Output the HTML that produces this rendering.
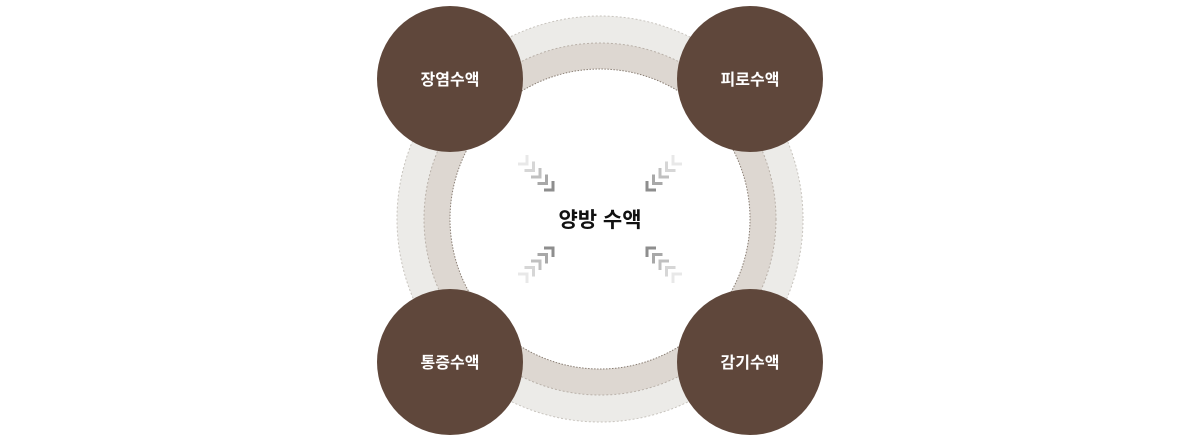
<!DOCTYPE html>
<html><head><meta charset="utf-8"><style>
html,body{margin:0;padding:0;background:#fff;}
svg{display:block}
</style></head><body>
<svg width="1200" height="440" viewBox="0 0 1200 440" xmlns="http://www.w3.org/2000/svg">
<defs>
  <!-- chevron pointing up-left: corner at 0,0 -->
  <path id="ch" d="M0,9 V0 H9" fill="none" stroke-width="3"/>
</defs>
<circle cx="600" cy="219" r="203" fill="#ecebe8" stroke="#c8c4be" stroke-width="1" stroke-dasharray="2,2"/>
<circle cx="600" cy="219" r="176" fill="#ddd7d1" stroke="#b9b1a9" stroke-width="1" stroke-dasharray="2,2"/>
<circle cx="600" cy="219" r="150" fill="#fff" stroke="#8a7f75" stroke-width="1" stroke-dasharray="1.5,1.5"/>
<g id="grp" transform="translate(647,248)">
  <use href="#ch" x="0" y="0" stroke="#8e8e8e"/>
  <use href="#ch" x="6.5" y="6.5" stroke="#a8a8a8"/>
  <use href="#ch" x="13" y="13" stroke="#c0c0c0"/>
  <use href="#ch" x="19.5" y="19.5" stroke="#d6d6d6"/>
  <use href="#ch" x="26" y="26" stroke="#e8e8e8"/>
</g>
<use href="#grp" transform="translate(1200,0) scale(-1,1)"/>
<use href="#grp" transform="translate(0,438) scale(1,-1)"/>
<use href="#grp" transform="translate(1200,438) scale(-1,-1)"/>
<text x="600" y="227" text-anchor="middle" font-family="'Liberation Sans','Noto Sans CJK KR',sans-serif" font-size="21" font-weight="bold" fill="#111">양방 수액</text>
<g fill="#5f473b">
  <circle cx="450" cy="79" r="73"/>
  <circle cx="750" cy="79" r="73"/>
  <circle cx="450" cy="362" r="73"/>
  <circle cx="750" cy="362" r="73"/>
</g>
<g font-family="'Liberation Sans','Noto Sans CJK KR',sans-serif" font-size="16" font-weight="bold" fill="#fff" text-anchor="middle">
  <text x="450" y="85">장염수액</text>
  <text x="750" y="85">피로수액</text>
  <text x="450" y="368">통증수액</text>
  <text x="750" y="368">감기수액</text>
</g>
</svg>
</body></html>
